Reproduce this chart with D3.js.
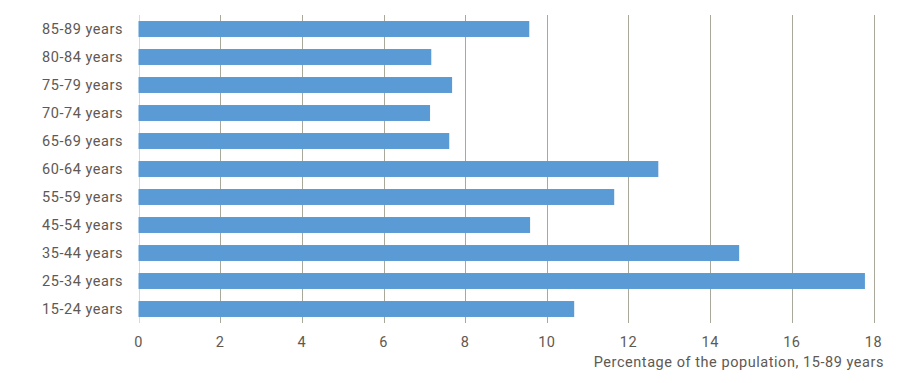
<!DOCTYPE html>
<html>
<head>
<meta charset="utf-8">
<script src="https://cdn.jsdelivr.net/npm/d3@7"></script>
<style>
  html, body { margin: 0; padding: 0; background: #fff; }
  svg text { font-family: Roboto, "DejaVu Sans", sans-serif; fill: #5e5953; letter-spacing: 0.55px; }
</style>
</head>
<body>
<svg id="chart" width="900" height="383"></svg>
<script>
const categories = ["85-89 years","80-84 years","75-79 years","70-74 years","65-69 years","60-64 years","55-59 years","45-54 years","35-44 years","25-34 years","15-24 years"];
const values = [9.57, 7.17, 7.68, 7.14, 7.61, 12.73, 11.65, 9.59, 14.71, 17.79, 10.67];
const xTicks = [0, 2, 4, 6, 8, 10, 12, 14, 16, 18];
const xTitle = "Percentage of the population, 15-89 years";

const svg = d3.select("#chart");
const mLeft = 138.5, mRight = 873.5, mTop = 15, mBottom = 323;

const x = d3.scaleLinear().domain([0, 18]).range([mLeft, mRight]);
const y = d3.scaleBand().domain(categories).range([mTop, mBottom]).paddingInner(0.43).paddingOuter(0.215);

// gridlines
svg.append("g").selectAll("line").data(xTicks.filter(d => d > 0)).join("line")
  .attr("x1", d => Math.round(x(d)) + 0.5).attr("x2", d => Math.round(x(d)) + 0.5)
  .attr("y1", mTop).attr("y2", mBottom)
  .attr("stroke", "#a9a89a").attr("stroke-width", 1);

// zero axis
svg.append("line")
  .attr("x1", Math.round(x(0)) + 0.5).attr("x2", Math.round(x(0)) + 0.5)
  .attr("y1", mTop).attr("y2", mBottom)
  .attr("stroke", "#d9d9d9").attr("stroke-width", 1);

// bars
svg.append("g").selectAll("rect").data(categories).join("rect")
  .attr("x", x(0))
  .attr("y", d => y(d))
  .attr("width", (d, i) => x(values[i]) - x(0))
  .attr("height", y.bandwidth())
  .attr("fill", "#5b9bd5");

// category labels
svg.append("g").selectAll("text").data(categories).join("text")
  .attr("x", 123)
  .attr("y", d => y(d) + y.bandwidth() / 2)
  .attr("dy", "0.35em")
  .attr("text-anchor", "end")
  .attr("font-size", "14.5px")
  .text(d => d);

// x tick labels
svg.append("g").selectAll("text").data(xTicks).join("text")
  .attr("x", d => x(d))
  .attr("y", 342)
  .attr("dy", "0.35em")
  .attr("text-anchor", "middle")
  .attr("font-size", "14.5px")
  .text(d => d);

// axis title
svg.append("text")
  .attr("x", 884)
  .attr("y", 362)
  .attr("dy", "0.35em")
  .attr("text-anchor", "end")
  .attr("font-size", "14.5px")
  .text(xTitle);
</script>
</body>
</html>
